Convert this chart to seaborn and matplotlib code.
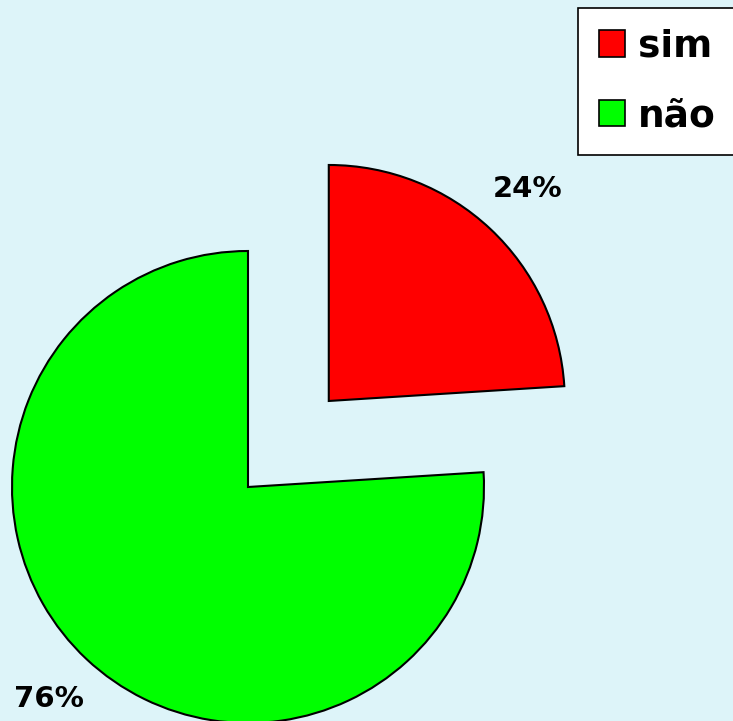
import matplotlib
matplotlib.use('Agg')
import matplotlib.pyplot as plt
import seaborn as sns
from matplotlib.patches import Patch

# data
labels = ['sim', 'não']
values = [24, 76]
colors = ['#FF0000', '#00FF00']

BG = '#DDF4F9'
R = 236
explode = [0.5 * R, 0.0]   # pie() takes explode in data units here

sns.set_theme(style='white', rc={'axes.facecolor': BG, 'figure.facecolor': BG})
plt.rcParams['font.family'] = ['DejaVu Sans']

fig = plt.figure(figsize=(7.33, 7.21), dpi=100)
ax = fig.add_axes([0, 0, 1, 1])

wedges, texts, autotexts = ax.pie(
    values, colors=colors, explode=explode, startangle=90, counterclock=False,
    center=(248, 234), radius=R, frame=True,
    autopct='%1.0f%%', pctdistance=1.23,
    wedgeprops=dict(edgecolor='black', linewidth=1.5),
    textprops=dict(fontsize=21, fontweight='bold', color='black'))
ax.set_xlim(0, 733)
ax.set_ylim(0, 721)
ax.set_aspect('equal')
ax.axis('off')
for t in autotexts:
    t.set_ha('center')
    t.set_va('center')

handles = [Patch(facecolor=c, edgecolor='black', linewidth=1.2) for c in colors]
leg = fig.legend(handles, labels, loc='upper left',
                 bbox_to_anchor=(578 / 733, 1 - 8 / 721),
                 fontsize=27, frameon=True, fancybox=False,
                 handlelength=0.7, handleheight=0.7, handletextpad=0.35,
                 labelspacing=0.9, borderpad=0.55, borderaxespad=0)
leg.get_frame().set_edgecolor('black')
leg.get_frame().set_linewidth(1.2)
leg.get_frame().set_facecolor('white')
leg.get_frame().set_alpha(1)
for t in leg.get_texts():
    t.set_fontweight('bold')
    t.set_color('black')

fig.savefig('out.png', dpi=100, facecolor=BG)
